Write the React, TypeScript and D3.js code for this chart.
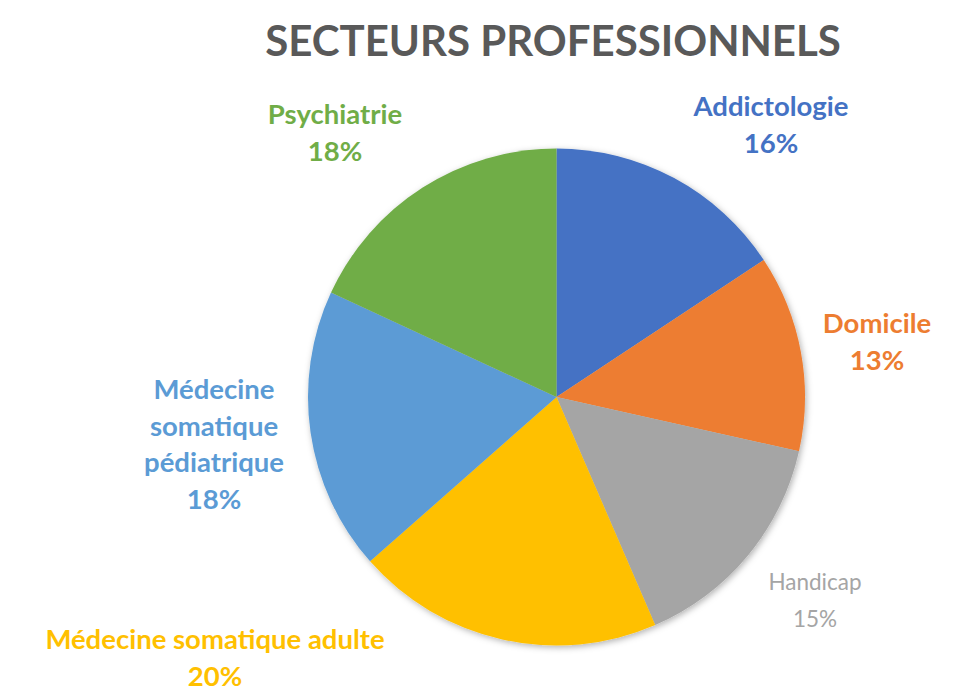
import React from "react";
import * as d3 from "d3";

const categories = [
  "Addictologie",
  "Domicile",
  "Handicap",
  "Médecine somatique adulte",
  "Médecine somatique pédiatrique",
  "Psychiatrie",
];
const values = [15.7, 12.8, 15.0, 20.0, 18.4, 18.1];
const colors = ["#4472C4", "#ED7D31", "#A5A5A5", "#FFC000", "#5B9BD5", "#70AD47"];
const labelLines = [
  ["Addictologie"],
  ["Domicile"],
  ["Handicap"],
  ["Médecine somatique adulte"],
  ["Médecine", "somatique", "pédiatrique"],
  ["Psychiatrie"],
];
const title = "SECTEURS PROFESSIONNELS";

// layout only: label anchor (center x, first baseline y)
const labelAnchors: [number, number][] = [
  [771, 116],
  [877, 333],
  [815, 590],
  [215, 649],
  [214, 399],
  [335, 124],
];

const W = 959;
const H = 692;
const CX = 556.5;
const CY = 397;
const R = 248.5;
const LINE = 36.5;
const FONT = "Lato, 'Open Sans', sans-serif";

export default function App() {
  const total = d3.sum(values);
  const pie = d3.pie<number>().sort(null).value((d) => d);
  const arcs = pie(values);
  const arcGen = d3.arc<d3.PieArcDatum<number>>().innerRadius(0).outerRadius(R);

  return (
    <svg
      width={W}
      height={H}
      style={{ position: "absolute", left: 0, top: 0, display: "block", background: "#fff" }}
    >
      <defs>
        <filter id="sh" x="-20%" y="-20%" width="140%" height="140%">
          <feDropShadow dx="1.5" dy="2" stdDeviation="3" floodColor="#000" floodOpacity="0.3" />
        </filter>
      </defs>
      <text
        x={553}
        y={56}
        textAnchor="middle"
        fontFamily={FONT}
        fontWeight="bold"
        fontSize={42}
        fill="#595959"
      >
        {title}
      </text>
      <g transform={`translate(${CX},${CY})`} filter="url(#sh)">
        {arcs.map((a, i) => (
          <path key={categories[i]} d={arcGen(a) || ""} fill={colors[i]} />
        ))}
      </g>
      {arcs.map((a, i) => {
        const [x, y] = labelAnchors[i];
        const pct = `${Math.round((a.data / total) * 100)}%`;
        const lines = [...labelLines[i], pct];
        const regular = categories[i] === "Handicap";
        return (
          <text
            key={"l" + i}
            textAnchor="middle"
            fontFamily={FONT}
            fontWeight={regular ? "normal" : "bold"}
            fontSize={regular ? 22.5 : 27.5}
            fill={colors[i]}
          >
            {lines.map((t, j) => (
              <tspan key={j} x={x} y={y + j * LINE}>
                {t}
              </tspan>
            ))}
          </text>
        );
      })}
    </svg>
  );
}
